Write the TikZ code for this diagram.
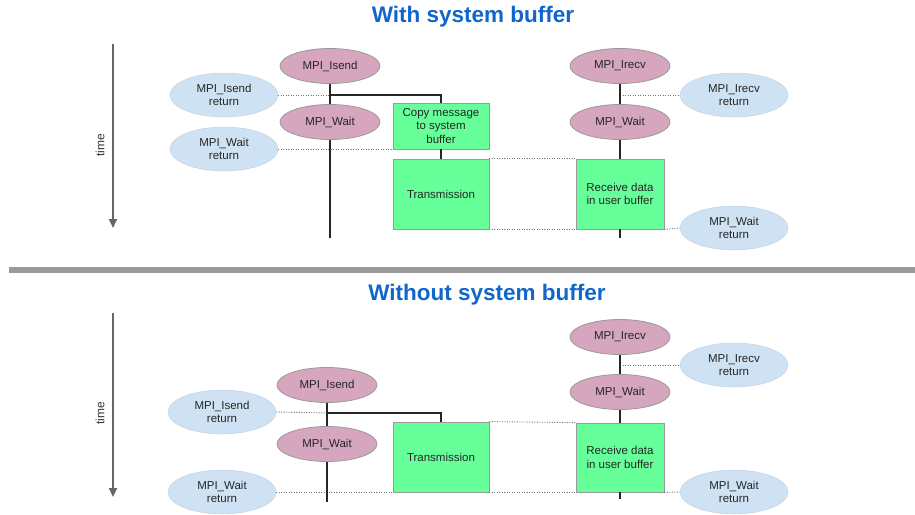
\documentclass[tikz,border=0pt]{standalone}
\usepackage{fontspec}
\setmainfont{Liberation Sans}
\usetikzlibrary{shapes.geometric,arrows.meta}
\definecolor{callpink}{HTML}{D5A6BD}
\definecolor{retblue}{HTML}{CFE2F3}
\definecolor{boxgreen}{HTML}{66FF99}
\definecolor{titleblue}{HTML}{1166CC}
\definecolor{edgegray}{HTML}{9A9A9A}
\definecolor{sepgray}{HTML}{999999}
\begin{document}
\begin{tikzpicture}[x=1pt,y=-1pt,
  lbl/.style={font=\fontsize{11.5}{13.5}\selectfont,align=center,text=black!85},
  call/.style={lbl,ellipse,draw=edgegray,fill=callpink,minimum width=100pt,minimum height=35pt,inner sep=0pt,line width=0.8pt},
  ret/.style={lbl,ellipse,draw=retblue!85!gray,fill=retblue,minimum width=108pt,minimum height=44pt,inner sep=0pt,line width=0.5pt},
  proc/.style={lbl,rectangle,draw=edgegray,fill=boxgreen,inner sep=0pt,line width=0.8pt},
  wire/.style={line width=2pt,black!85},
  dots/.style={black!55,line width=0.9pt,dash pattern=on 1pt off 1.5pt},
  timearrow/.style={line width=2pt,black!60,-{Triangle[length=9pt,width=8pt]}},
  ttl/.style={font=\fontsize{22.5}{26}\selectfont\bfseries,text=titleblue},
  timelbl/.style={font=\fontsize{12}{14}\selectfont,rotate=90,text=black!80}
]
\useasboundingbox (0,0) rectangle (915,514);

% ---------- top: with system buffer ----------
\node[ttl] (t1) at (473,17) {With system buffer};
\coordinate (ta1) at (113,44);
\coordinate (tb1) at (113,228);
\draw[timearrow] (ta1) -- (tb1);
\node[timelbl] (tl1) at (100,145) {time};

\node[call] (isend) at (330,66) {MPI\_Isend};
\node[call] (swait) at (330,122) {MPI\_Wait};
\node[ret] (isendret) at (224,95) {MPI\_Isend\\return};
\node[ret] (swaitret) at (224,149) {MPI\_Wait\\return};
\node[proc,minimum width=96pt,minimum height=46pt] (copy) at (441,126) {Copy message\\to system\\buffer};
\node[proc,minimum width=96pt,minimum height=70pt] (trans) at (441,194) {Transmission};
\node[proc,minimum width=88pt,minimum height=70pt] (recv) at (620,194) {Receive data\\in user buffer};
\node[call] (irecv) at (620,66) {MPI\_Irecv};
\node[call] (rwait) at (620,122) {MPI\_Wait};
\node[ret] (irecvret) at (734,95) {MPI\_Irecv\\return};
\node[ret] (rwaitret) at (734,228) {MPI\_Wait\\return};

\coordinate (b1) at (330,95);
\coordinate (send1) at (330,238);
\coordinate (r1) at (620,95);
\coordinate (rend1) at (620,238);

\draw[dots] (isendret.east) -- (b1);
\draw[dots] (swaitret.east) -- (swaitret.east -| copy.west);
\draw[dots] (trans.north east) -- (recv.north west);
\draw[dots] (trans.south east) -- (recv.south west);
\draw[dots] (recv.south east) -- (rwaitret.west);
\draw[dots] (r1) -- (irecvret.west);

\draw[wire] (isend.south) -- (swait.north);
\draw[wire] (swait.south) -- (send1);
\draw[wire] (b1) -| (copy.north);
\draw[wire] (copy.south) -- (trans.north);
\draw[wire] (irecv.south) -- (rwait.north);
\draw[wire] (rwait.south) -- (recv.north);
\draw[wire] (recv.south) -- (rend1);

% separator
\coordinate (sepL) at (9,270);
\coordinate (sepR) at (915,270);
\draw[line width=6.5pt,sepgray] (sepL) -- (sepR);

% ---------- bottom: without system buffer ----------
\node[ttl] (t2) at (487,295) {Without system buffer};
\coordinate (ta2) at (113,313);
\coordinate (tb2) at (113,497);
\draw[timearrow] (ta2) -- (tb2);
\node[timelbl] (tl2) at (100,413) {time};

\node[call] (isend2) at (327,385) {MPI\_Isend};
\node[call] (swait2) at (327,444) {MPI\_Wait};
\node[ret] (isendret2) at (222,412) {MPI\_Isend\\return};
\node[ret] (swaitret2) at (222,492) {MPI\_Wait\\return};
\node[proc,minimum width=96pt,minimum height=70pt] (trans2) at (441,457) {Transmission};
\node[proc,minimum width=88pt,minimum height=69pt] (recv2) at (620,457.5) {Receive data\\in user buffer};
\node[call] (irecv2) at (620,337) {MPI\_Irecv};
\node[call] (rwait2) at (620,392) {MPI\_Wait};
\node[ret] (irecvret2) at (734,365) {MPI\_Irecv\\return};
\node[ret] (rwaitret2) at (734,492) {MPI\_Wait\\return};

\coordinate (b2) at (327,413);
\coordinate (send2) at (327,502);
\coordinate (r2) at (620,365);
\coordinate (rend2) at (620,499);

\draw[dots] (isendret2.east) -- (b2);
\draw[dots] (swaitret2.east) -- (swaitret2.east -| trans2.west);
\draw[dots] (trans2.north east) -- (recv2.north west);
\draw[dots] (trans2.south east) -- (recv2.south west);
\draw[dots] (recv2.south east) -- (rwaitret2.west);
\draw[dots] (r2) -- (irecvret2.west);

\draw[wire] (isend2.south) -- (swait2.north);
\draw[wire] (swait2.south) -- (send2);
\draw[wire] (b2) -| (trans2.north);
\draw[wire] (irecv2.south) -- (rwait2.north);
\draw[wire] (rwait2.south) -- (recv2.north);
\draw[wire] (recv2.south) -- (rend2);
\end{tikzpicture}
\end{document}
